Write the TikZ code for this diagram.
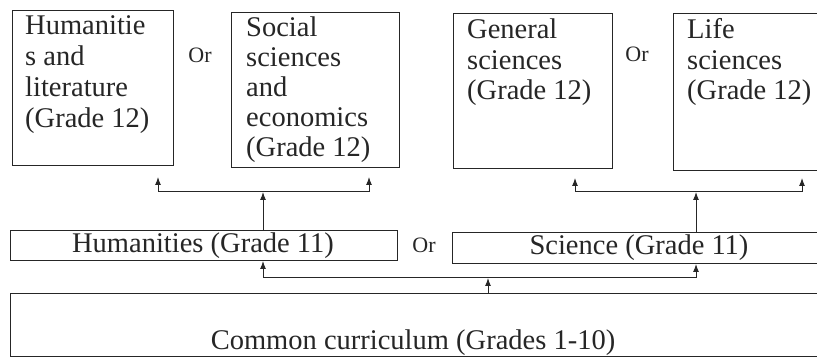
\documentclass[tikz,border=0pt]{standalone}
\usepackage{fontspec}
\setmainfont{Liberation Serif}
\newfontfamily\serifA{Liberation Serif}
\usetikzlibrary{arrows.meta}
\begin{document}
\begin{tikzpicture}[x=1pt,y=-1pt,
  box/.style={draw=black!85, line width=1pt, rectangle, inner sep=0pt, anchor=north west},
  txt/.style={anchor=base west, inner sep=0pt, font=\serifA\fontsize{28.5}{30}\selectfont, text=black!85},
  ctxt/.style={anchor=base, inner sep=0pt, font=\serifA\fontsize{28.5}{30}\selectfont, text=black!85},
  ortxt/.style={anchor=base, inner sep=0pt, font=\serifA\fontsize{22}{24}\selectfont, text=black!85},
  arr/.style={draw=black!85, line width=1pt, -{Latex[length=8pt,width=6pt]}}]
\clip (0,0) rectangle (817,358);
\fill[white] (0,0) rectangle (817,358);
% Grade 12 boxes
\node[box, minimum width=161pt, minimum height=155pt] (hl) at (12,10) {};
\node[box, minimum width=168pt, minimum height=155pt] (ss) at (231,12) {};
\node[box, minimum width=159pt, minimum height=155pt] (gs) at (453,13) {};
\node[box, minimum width=170pt, minimum height=157pt] (ls) at (673,13) {};
\foreach \t [count=\i from 0] in {Humanitie,s and,literature,{(Grade 12)}}
  \node[txt] (hlt\i) at (25,35+30.8*\i) {\t};
\foreach \t [count=\i from 0] in {Social,sciences,and,economics,{(Grade 12)}}
  \node[txt] (sst\i) at (246,37+30*\i) {\t};
\foreach \t [count=\i from 0] in {General,sciences,{(Grade 12)}}
  \node[txt] (gst\i) at (467,39+30.5*\i) {\t};
\foreach \t [count=\i from 0] in {Life,sciences,{(Grade 12)}}
  \node[txt] (lst\i) at (687,39+30.5*\i) {\t};
\node[ortxt] (or1) at (200,63) {Or};
\node[ortxt] (or2) at (637,62) {Or};
% Grade 11 boxes
\node[box, minimum width=387pt, minimum height=30pt] (hum) at (10,230) {};
\node[box, minimum width=380pt, minimum height=31pt] (sci) at (452,232) {};
\node[ctxt] (humt) at (203,253) {Humanities (Grade 11)};
\node[ctxt] (scit) at (639,255) {Science (Grade 11)};
\node[ortxt] (or3) at (424,253) {Or};
% Common curriculum
\node[box, minimum width=830pt, minimum height=63pt] (cc) at (10,293) {};
\node[ctxt] (cct) at (413,349) {Common curriculum (Grades 1-10)};
% connectors
\coordinate (b1) at (263,192);
\coordinate (b2) at (696,192);
\coordinate (c1) at (488,278);
\coordinate (t1) at (158,177);
\coordinate (t2) at (369,177);
\coordinate (t3) at (575,178);
\coordinate (t4) at (802,178);
\draw[arr] (hum.north -| b1) -- (b1);
\draw[arr] (b1) -| (t1);
\draw[arr] (b1) -| (t2);
\draw[arr] (sci.north -| b2) -- (b2);
\draw[arr] (b2) -| (t3);
\draw[arr] (b2) -| (t4);
\draw[arr] (cc.north -| c1) -- (c1);
\draw[arr] (c1) -| (hum.south -| b1);
\draw[arr] (c1) -| (sci.south -| b2);
\end{tikzpicture}
\end{document}
